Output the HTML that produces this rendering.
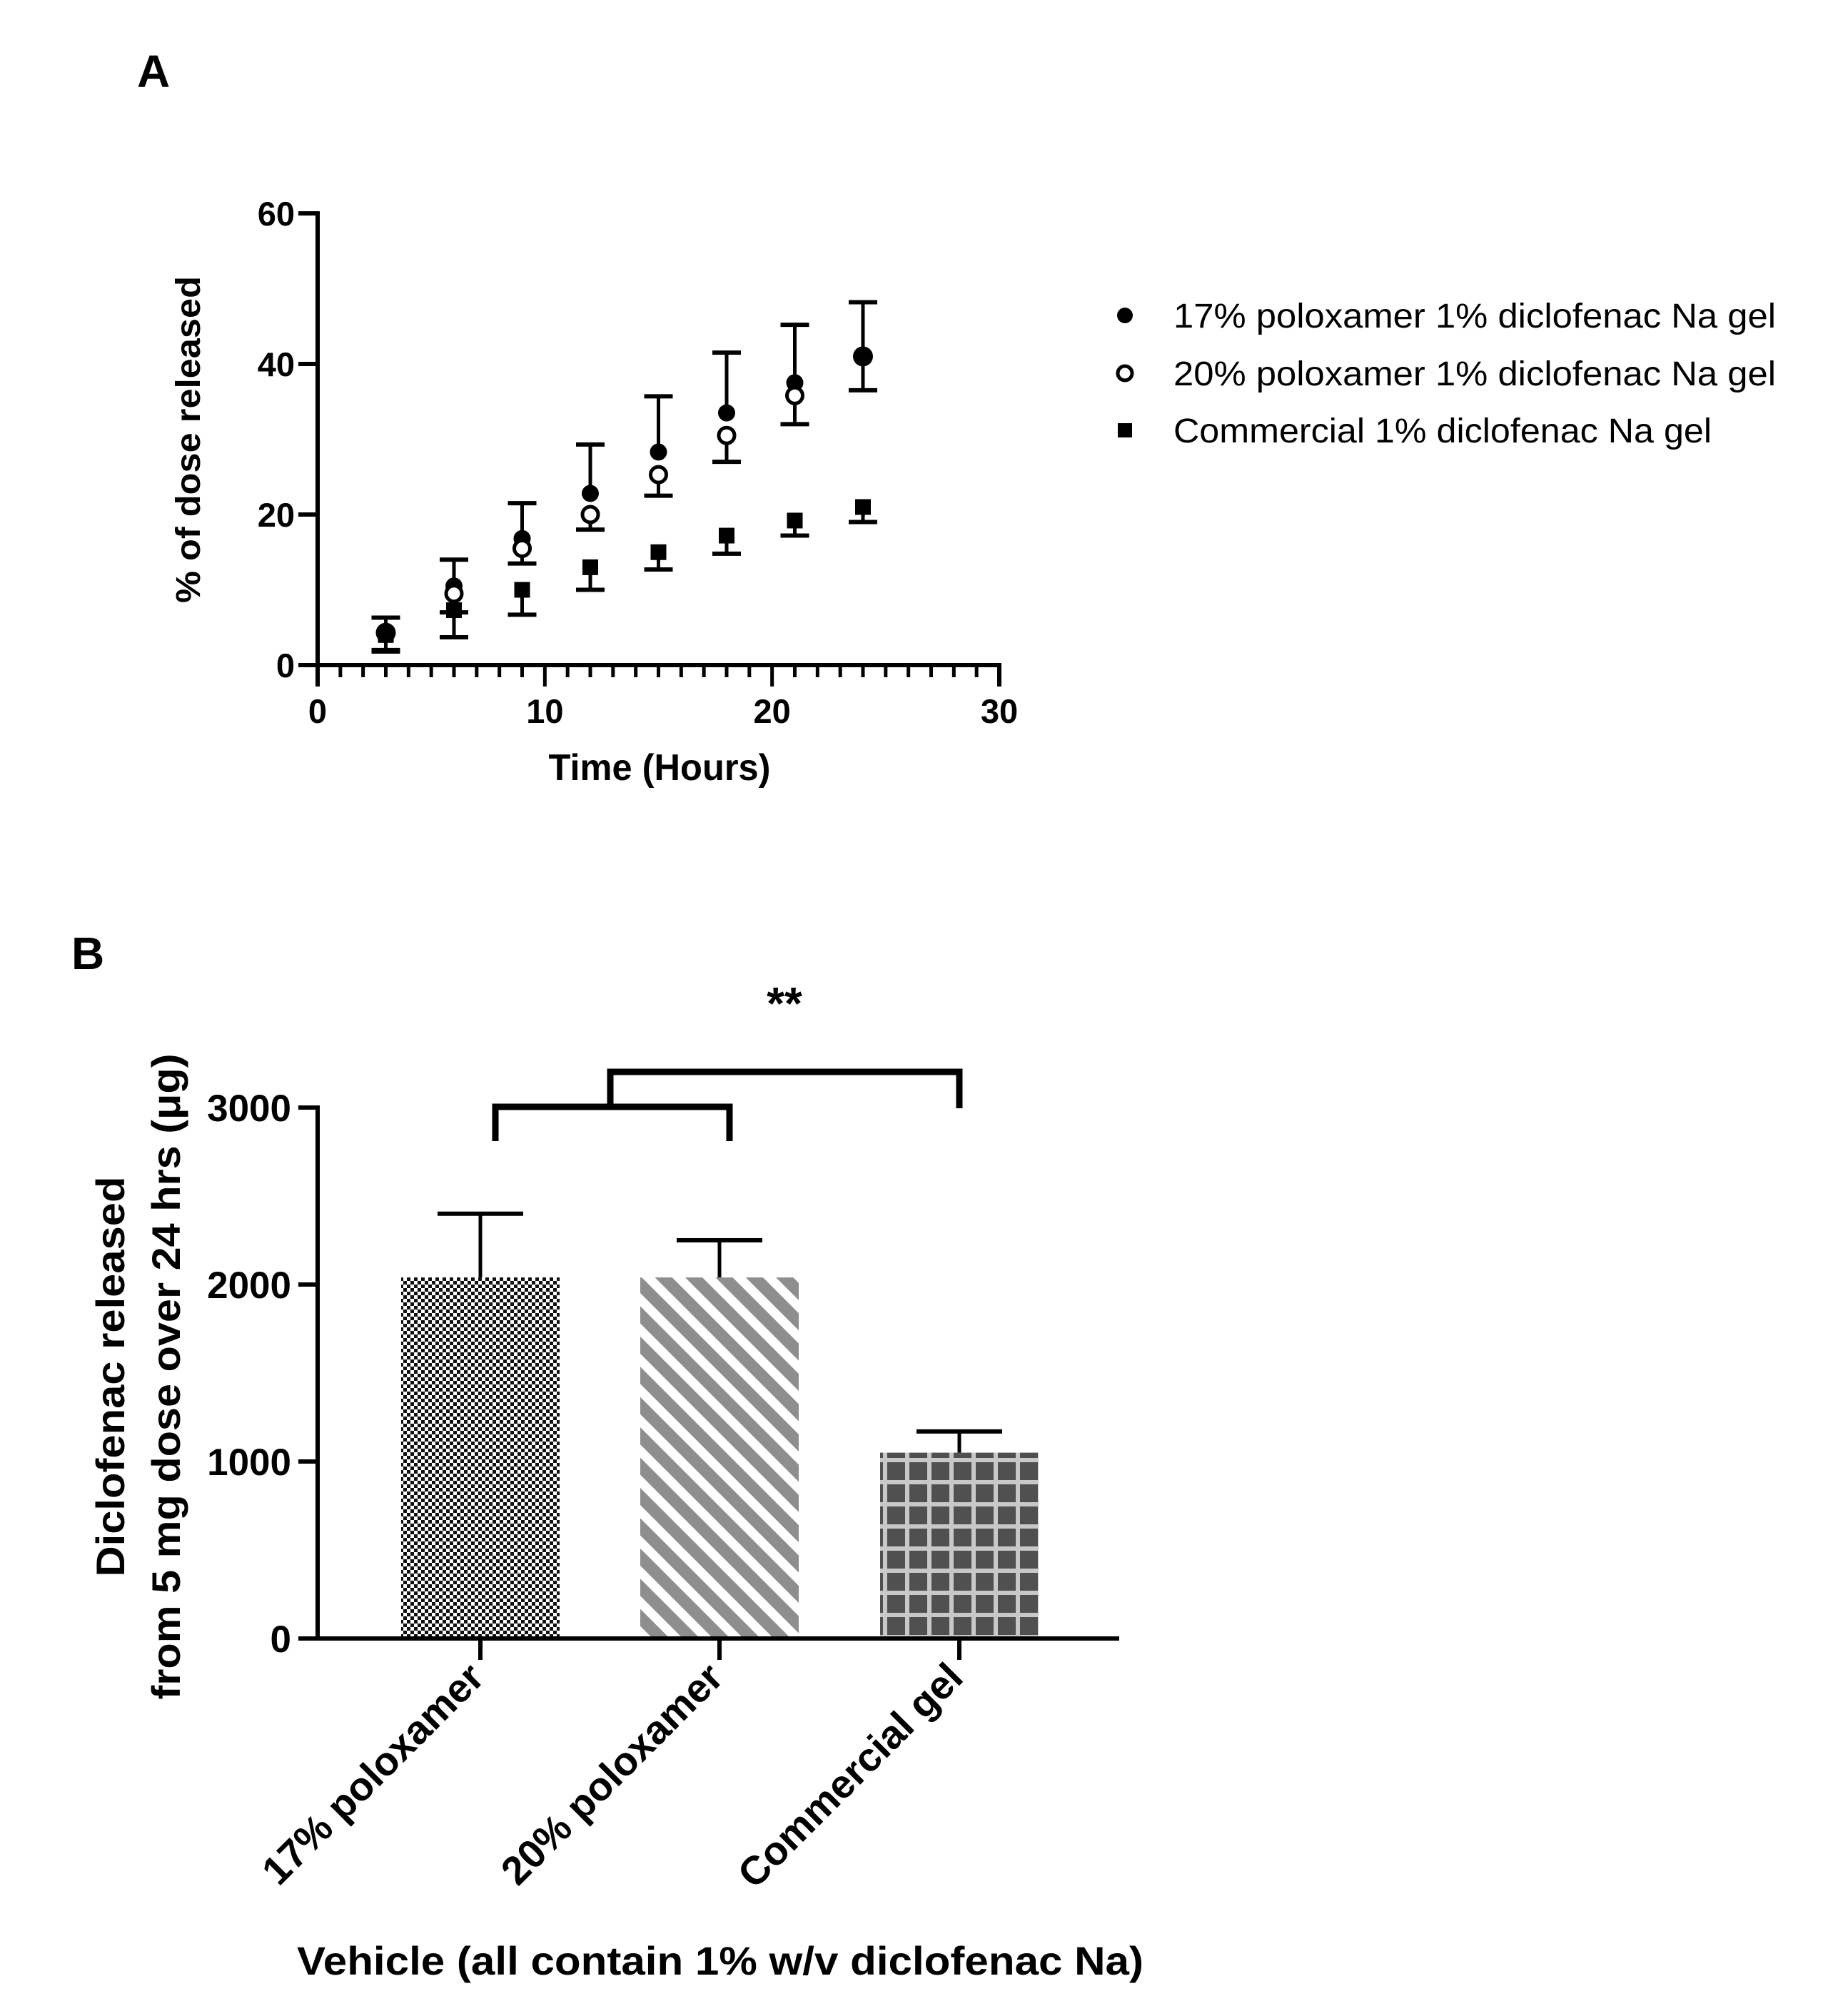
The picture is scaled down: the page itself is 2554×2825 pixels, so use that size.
<!DOCTYPE html>
<html><head><meta charset="utf-8"><style>
html,body{margin:0;padding:0;background:#fff;}
svg{display:block;}
text{font-family:"Liberation Sans",Arial,sans-serif;fill:#000;}
.b{font-weight:bold;}
</style></head><body>
<svg id="svg" width="2554" height="2825" viewBox="0 0 2554 2825" xmlns="http://www.w3.org/2000/svg">
<defs>
<pattern id="checker" width="10" height="10" patternUnits="userSpaceOnUse">
<rect width="10" height="10" fill="#fff"/><rect width="5" height="5" fill="#111"/><rect x="5" y="5" width="5" height="5" fill="#111"/>
</pattern>
<pattern id="stripes" width="30" height="30" patternUnits="userSpaceOnUse" patternTransform="rotate(45)">
<rect width="30" height="30" fill="#fff"/><rect width="30" height="17" fill="#8e8e8e"/>
</pattern>
<pattern id="grid" width="31" height="31" patternUnits="userSpaceOnUse">
<rect width="31" height="31" fill="#c8c8c8"/><rect x="3" y="3" width="25" height="25" fill="#505050"/>
</pattern>
</defs>
<text class="b" x="192" y="122" font-size="64">A</text>
<text class="b" x="100" y="1358" font-size="64">B</text>
<g id="chartA"></g>
<g id="legendA"></g>
<g id="chartB"></g>
</svg>
<script>
// ---- Chart A data ----
const timesA = [3, 6, 9, 12, 15, 18, 21, 24];
const p17 = [4.3, 10.5, 16.8, 22.8, 28.3, 33.5, 37.5, 41];
const p17Err = [2.0, 3.5, 4.7, 6.5, 7.4, 8.0, 7.7, 7.2];
const p20 = [4, 9.5, 15.5, 20, 25.3, 30.5, 35.8];
const p20Err = [2.2, 2.5, 2.0, 2.0, 2.8, 3.5, 3.8];
const comm = [4, 7.3, 10, 13, 15, 17.2, 19.2, 21];
const commErr = [2.0, 3.6, 3.3, 3.0, 2.3, 2.4, 2.0, 2.0];
const yTicksA = [0, 20, 40, 60];
const xTicksA = [0, 10, 20, 30];
const legendLabels = ["17% poloxamer 1% diclofenac Na gel","20% poloxamer 1% diclofenac Na gel","Commercial 1% diclofenac Na gel"];
// ---- Chart B data ----
const catsB = ["17% poloxamer","20% poloxamer","Commercial gel"];
const valsB = [2040, 2040, 1050];
const errB = [360, 210, 120];
const yTicksB = [0, 1000, 2000, 3000];

const NS = "http://www.w3.org/2000/svg";
function mk(parent, tag, attrs, txt){
  const e = document.createElementNS(NS, tag);
  for (const k in attrs) e.setAttribute(k, attrs[k]);
  if (txt !== undefined) e.textContent = txt;
  parent.appendChild(e); return e;
}
const xA = v => 445 + v * (1400 - 445) / 30;
const yA = v => 932 - v * (932 - 299) / 60;
const gA = document.getElementById('chartA');
let e;
e = mk(gA,'line',{x1:xA(0),y1:yA(60)-3,x2:xA(0),y2:yA(0)+30,stroke:'#000','stroke-width':6});


e = mk(gA,'line',{x1:xA(0)-27,y1:yA(0),x2:xA(30)+3,y2:yA(0),stroke:'#000','stroke-width':6});


yTicksA.forEach(v=>{
  e = mk(gA,'line',{x1:xA(0)-27,y1:yA(v),x2:xA(0),y2:yA(v),stroke:'#000','stroke-width':6});
  
  
  e = mk(gA,'text',{x:xA(0)-32,y:yA(v)+17,'text-anchor':'end','font-size':47,class:'b'},String(v));
  
  
});
for(let h=1;h<30;h++){
  const major = h%10===0;
  e = mk(gA,'line',{x1:xA(h),y1:yA(0),x2:xA(h),y2:yA(0)+(major?30:17),stroke:'#000','stroke-width':5});
  
  
}
mk(gA,'line',{x1:xA(30),y1:yA(0),x2:xA(30),y2:yA(0)+30,stroke:'#000','stroke-width':6});
xTicksA.forEach(v=>{
  e = mk(gA,'text',{x:xA(v),y:1013,'text-anchor':'middle','font-size':47,class:'b'},String(v));
  
  
});
e = mk(gA,'text',{x:924,y:1093,'text-anchor':'middle','font-size':52,class:'b',textLength:311,lengthAdjust:'spacingAndGlyphs'},'Time (Hours)');


e = mk(gA,'text',{x:0,y:0,'text-anchor':'middle','font-size':48,class:'b',textLength:458,lengthAdjust:'spacingAndGlyphs',transform:'translate(280,616) rotate(-90)'},'% of dose released');



function errbar(g, x, y1, y2, name){
  const grp = mk(g,'g',{});
  
  
  mk(grp,'line',{x1:x,y1:y1,x2:x,y2:y2,stroke:'#000','stroke-width':5});
  mk(grp,'line',{x1:x-20,y1:y2,x2:x+20,y2:y2,stroke:'#000','stroke-width':6});
}
comm.forEach((v,i)=>{
  errbar(gA, xA(timesA[i]), yA(v), yA(v-commErr[i]), 'error-bar-commercial');
  e = mk(gA,'rect',{x:xA(timesA[i])-11,y:yA(v)-11,width:22,height:22,fill:'#000'});
  
  
});
p20.forEach((v,i)=>{
  errbar(gA, xA(timesA[i]), yA(v), yA(v-p20Err[i]), 'error-bar-20-poloxamer');
});
p17.forEach((v,i)=>{
  errbar(gA, xA(timesA[i]), yA(v), yA(v+p17Err[i]), 'error-bar-17-poloxamer');
});
errbar(gA, xA(24), yA(p17[7]), yA(p17[7]-4.5), 'error-bar-17-poloxamer');
p17.forEach((v,i)=>{
  e = mk(gA,'circle',{cx:xA(timesA[i]),cy:yA(v),r:i===7||i===0?14:12,fill:'#000'});
  
  
});
p20.forEach((v,i)=>{
  if(i===0) return;
  e = mk(gA,'circle',{cx:xA(timesA[i]),cy:yA(v),r:11,fill:'#fff',stroke:'#000','stroke-width':5});
  
  
});
const gL = document.getElementById('legendA');
const legY = [442, 523, 603];
legendLabels.forEach((t,i)=>{
  const row = mk(gL,'g',{});
  
  
  if(i===0) mk(row,'circle',{cx:1576,cy:legY[i],r:11,fill:'#000'});
  if(i===1) mk(row,'circle',{cx:1576,cy:legY[i],r:10,fill:'#fff',stroke:'#000','stroke-width':5});
  if(i===2) mk(row,'rect',{x:1566,y:legY[i]-10,width:20,height:20,fill:'#000'});
  const tx = mk(row,'text',{x:1644,y:legY[i]+17,'font-size':48},t);
  tx.setAttribute('textLength', i===2?754:844);
  tx.setAttribute('lengthAdjust','spacingAndGlyphs');
});

// Chart B
const gB = document.getElementById('chartB');
const yB = v => 2296 - v * (2296 - 1552) / 3000;
const barCenters = [673, 1008, 1344];
const barW = 222;
const fills = ['url(#checker)','url(#stripes)','url(#grid)'];
valsB.forEach((v,i)=>{
  const cx = barCenters[i];
  e = mk(gB,'line',{x1:cx,y1:yB(v),x2:cx,y2:yB(v+errB[i]),stroke:'#000','stroke-width':5});
  
  
  mk(gB,'line',{x1:cx-60,y1:yB(v+errB[i]),x2:cx+60,y2:yB(v+errB[i]),stroke:'#000','stroke-width':6});
  e = mk(gB,'rect',{x:cx-barW/2,y:yB(v),width:barW,height:yB(0)-yB(v),fill:fills[i]});
  
  
  e = mk(gB,'line',{x1:cx,y1:yB(0),x2:cx,y2:yB(0)+30,stroke:'#000','stroke-width':6});
  
  
  e = mk(gB,'text',{x:0,y:0,'text-anchor':'end','font-size':56,class:'b',transform:`translate(${cx+8},${yB(0)+58}) rotate(-45)`},catsB[i]);
  
  
});
e = mk(gB,'line',{x1:445,y1:yB(3000)-3,x2:445,y2:yB(0),stroke:'#000','stroke-width':6});


e = mk(gB,'line',{x1:418,y1:yB(0),x2:1568,y2:yB(0),stroke:'#000','stroke-width':6});


yTicksB.forEach(v=>{
  e = mk(gB,'line',{x1:418,y1:yB(v),x2:445,y2:yB(v),stroke:'#000','stroke-width':6});
  
  
  e = mk(gB,'text',{x:408,y:yB(v)+19,'text-anchor':'end','font-size':53,class:'b'},String(v));
  
  
});
e = mk(gB,'path',{d:'M694,1599 V1551 H1022 V1599 M855,1551 V1502 H1344 V1553',fill:'none',stroke:'#000','stroke-width':9});


e = mk(gB,'text',{x:1099,y:1428,'text-anchor':'middle','font-size':64,class:'b'},'**');


const yt = mk(gB,'g',{transform:'translate(0,1929) rotate(-90)'});


mk(yt,'text',{x:0,y:174,'text-anchor':'middle','font-size':56,class:'b',textLength:561,lengthAdjust:'spacingAndGlyphs'},'Diclofenac released');
mk(yt,'text',{x:0,y:252,'text-anchor':'middle','font-size':56,class:'b',textLength:905,lengthAdjust:'spacingAndGlyphs'},'from 5 mg dose over 24 hrs (\u03bcg)');
e = mk(gB,'text',{x:1009,y:2767,'text-anchor':'middle','font-size':56,class:'b',textLength:1186,lengthAdjust:'spacingAndGlyphs'},'Vehicle (all contain 1% w/v diclofenac Na)');


</script>
</body></html>
